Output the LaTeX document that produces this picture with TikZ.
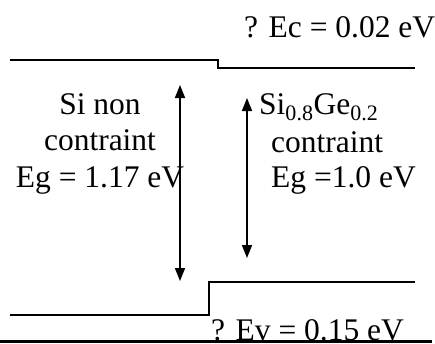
\documentclass[tikz,border=0pt]{standalone}
\usepackage{fontspec}
\setmainfont{Liberation Serif}
\usetikzlibrary{arrows.meta}

\begin{document}
\begin{tikzpicture}[
    x=1pt, y=-1pt,
    band/.style={line width=2pt},
    label/.style={inner sep=0pt, font=\fontsize{31.5}{36.5}\selectfont},
    gap/.style={{Triangle[length=13pt,width=10pt]}-{Triangle[length=13pt,width=10pt]}, line width=1.6pt}
]
\useasboundingbox (0,0) rectangle (435,343);

% bandes de conduction et de valence
\coordinate (ecL) at (10,60);
\coordinate (ecS) at (218,68);
\coordinate (ecR) at (415,68);
\coordinate (evL) at (10,315);
\coordinate (evS) at (209,282);
\coordinate (evR) at (415,282);
\draw[band] (ecL) -| (ecS) -- (ecR);
\draw[band] (evL) -| (evS) -- (evR);

% gaps
\coordinate (siTop) at (180,85);
\coordinate (siBot) at (180,281);
\coordinate (sgTop) at (247,98);
\coordinate (sgBot) at (247,258);
\draw[gap] (siBot) -- (siTop);
\draw[gap] (sgBot) -- (sgTop);

% textes
\node[label, anchor=base west] (dEc) at (244,37) {? Ec = 0.02 eV};
\node[label, anchor=base, align=center] (si) at (100,187) {Si non\\contraint\\Eg = 1.17 eV};
\node[label, anchor=base west] (sige) at (259,114) {Si\textsubscript{0.8}Ge\textsubscript{0.2}};
\node[label, anchor=base west] (sgCont) at (271,152) {contraint};
\node[label, anchor=base west] (sgEg) at (271,187) {Eg =1.0 eV};
\node[label, anchor=base west] (dEv) at (211,340) {? Ev = 0.15 eV};

% trait du bas
\coordinate (bbL) at (0,341.5);
\coordinate (bbR) at (432,341.5);
\draw[line width=3.5pt] (bbL) -- (bbR);
\end{tikzpicture}
\end{document}
